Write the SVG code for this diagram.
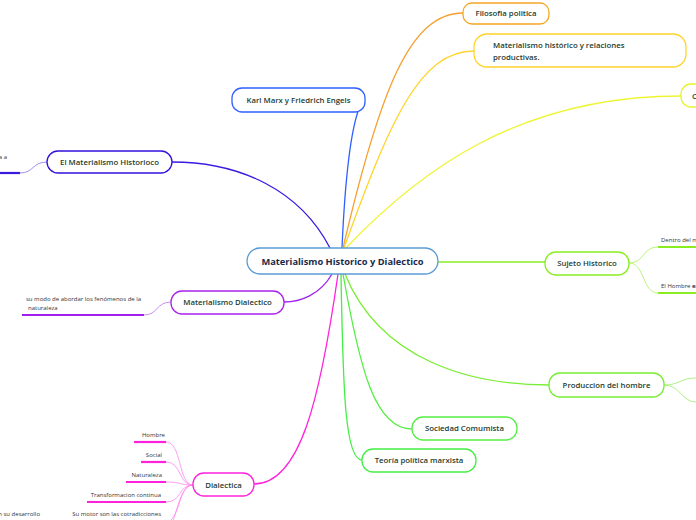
<svg xmlns="http://www.w3.org/2000/svg" width="696" height="520" viewBox="0 0 696 520">
<style>
.node rect{fill:#fff;stroke-width:1.3}
.lbl{font-family:"Open Sans","Noto Sans",sans-serif;font-size:7.8px;font-weight:600;fill:#1d3b2e}
.leaf{font-family:"Open Sans","Noto Sans",sans-serif;font-size:6px;fill:#333}
.c{fill:none;stroke-width:1.3}
.thin{fill:none;stroke-width:0.8}
.bar{fill:none;stroke-width:2.2}
</style>
<rect width="696" height="520" fill="#fff"/>
<g id="connectors">
<path class="c" stroke="#2f5fff" d="M342,248 C345,180 350,130 360,106"/>
<path class="c" stroke="#f5a030" d="M343,248 C380,90 410,13 463,13"/>
<path class="c" stroke="#ffd42a" d="M344,248 C390,120 420,51 474,51"/>
<path class="c" stroke="#eef530" d="M346,248 C420,170 520,96 681,96"/>
<path class="c" stroke="#3a1ae0" d="M330,248 C300,190 240,162 172,162"/>
<path class="thin" stroke="#8a70f0" d="M47,162 C32,162 34,173 20,173"/>
<path class="bar" stroke="#3a1ae0" d="M20,173 H0"/>
<path class="c" stroke="#a020f0" d="M332,274 C320,295 300,302 284,302"/>
<path class="thin" stroke="#c070f5" d="M171,302 C156,302 158,315 144,315"/>
<path class="bar" stroke="#a020f0" d="M144,315 H22"/>
<path class="c" stroke="#88ee22" d="M438,262 H545"/>
<path class="thin" stroke="#aaf060" d="M629,263 C645,263 642,247 658,247"/>
<path class="thin" stroke="#aaf060" d="M629,263 C645,263 642,293 658,293"/>
<path class="bar" stroke="#88ee22" d="M658,247 H696 M658,293 H696"/>
<path class="c" stroke="#77ee33" d="M345,274 C380,360 470,385 549,385"/>
<path class="thin" stroke="#99ee66" d="M664,385 C680,385 680,378 696,378"/>
<path class="thin" stroke="#99ee66" d="M664,385 C680,385 682,402 696,402"/>
<path class="c" stroke="#55ee44" d="M343,274 C360,370 375,429 412,429"/>
<path class="c" stroke="#44ee44" d="M341,274 C343,390 345,460 362,460"/>
<path class="c" stroke="#ff22dd" d="M338,274 C320,400 300,484 254,484"/>
<g class="thin" stroke="#ff88ee">
<path d="M193,485 C178,485 182,442 166,442"/>
<path d="M193,485 C178,485 182,462 166,462"/>
<path d="M193,485 C178,485 182,482 166,482"/>
<path d="M193,485 C178,485 182,502 166,502"/>
<path d="M193,485 C178,485 180,522 166,522"/>
<path d="M193,485 C176,485 178,530 160,540"/>
</g>
<g class="bar" stroke="#ff22dd">
<path d="M134,442 H166"/>
<path d="M141,462 H166"/>
<path d="M126,482 H166"/>
<path d="M87,502 H166"/>
</g>
</g>
<g id="center" class="node">
<rect x="247" y="248" width="191" height="26" rx="13" stroke="#5b9bd5"/>
<text x="342.5" y="264.5" text-anchor="middle" font-family="Open Sans, Noto Sans, sans-serif" font-size="9.3" font-weight="700" fill="#1a2a4a">Materialismo Historico y Dialectico</text>
</g>
<g id="karl" class="node">
<rect x="232" y="88" width="133" height="24" rx="10" stroke="#2f5fff"/>
<text class="lbl" x="298.5" y="103" text-anchor="middle">Karl Marx y Friedrich Engels</text>
</g>
<g id="filosofia" class="node">
<rect x="463" y="3" width="86" height="21" rx="9" stroke="#f5a623"/>
<text class="lbl" x="506" y="16" text-anchor="middle">Filosofia politica</text>
</g>
<g id="mat-hist-rel" class="node">
<rect x="474" y="34" width="212" height="33" rx="13" stroke="#ffd42a"/>
<text class="lbl" x="493" y="48">Materialismo histórico y relaciones</text>
<text class="lbl" x="493" y="60">productivas.</text>
</g>
<g id="ca" class="node">
<rect x="681" y="84" width="40" height="23" rx="10" stroke="#e5f52a"/>
<text class="lbl" x="692" y="99">C</text>
</g>
<g id="mat-historioco" class="node">
<rect x="47" y="151" width="125" height="22" rx="11" stroke="#3311dd"/>
<text class="lbl" x="109.5" y="165" text-anchor="middle" font-weight="400">El Materialismo Historioco</text>
<text class="leaf" x="7" y="159" text-anchor="end">a a</text>
</g>
<g id="mat-dialectico" class="node">
<rect x="171" y="291" width="113" height="23" rx="11" stroke="#aa22ee"/>
<text class="lbl" x="227.5" y="305" text-anchor="middle">Materialismo Dialectico</text>
<text class="leaf" x="26" y="301">su modo de abordar los fenómenos de la</text>
<text class="leaf" x="28" y="310">naturaleza</text>
</g>
<g id="sujeto" class="node">
<rect x="545" y="252" width="84" height="23" rx="11" stroke="#88ee22"/>
<text class="lbl" x="587" y="266" text-anchor="middle">Sujeto Historico</text>
<text class="leaf" x="661" y="242">Dentro del m</text>
<text class="leaf" x="661" y="288">El Hombre <tspan fill="#1a2a4a" font-weight="700">es</tspan></text>
</g>
<g id="produccion" class="node">
<rect x="549" y="373" width="115" height="24" rx="11" stroke="#77ee33"/>
<text class="lbl" x="606.5" y="387.5" text-anchor="middle">Produccion del hombre</text>
</g>
<g id="sociedad" class="node">
<rect x="412" y="417" width="105" height="23" rx="11" stroke="#55ee44"/>
<text class="lbl" x="464.5" y="431" text-anchor="middle">Sociedad Comumista</text>
</g>
<g id="teoria" class="node">
<rect x="362" y="449" width="114" height="23" rx="11" stroke="#44ee44"/>
<text class="lbl" x="419" y="463" text-anchor="middle">Teoría política marxista</text>
</g>
<g id="dialectica" class="node">
<rect x="193" y="473" width="61" height="23" rx="11" stroke="#ff22dd"/>
<text class="lbl" x="223.5" y="487.5" text-anchor="middle">Dialectica</text>
<text class="leaf" x="165" y="437" text-anchor="end">Hombre</text>
<text class="leaf" x="162" y="457" text-anchor="end">Social</text>
<text class="leaf" x="162" y="477" text-anchor="end">Naturaleza</text>
<text class="leaf" x="161" y="497" text-anchor="end">Transformacion continua</text>
<text class="leaf" x="161" y="516" text-anchor="end">Su motor son las cotradicciones</text>
<text class="leaf" x="40" y="516" text-anchor="end">n su desarrollo</text>
</g>
</svg>
